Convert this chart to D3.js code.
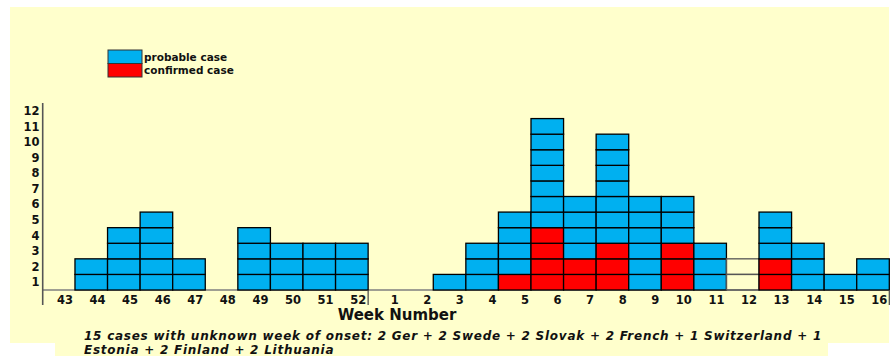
<!DOCTYPE html>
<html>
<head>
<meta charset="utf-8">
<script src="https://cdn.jsdelivr.net/npm/d3@7"></script>
<style>
  body { margin: 0; background: #fff; }
  svg { display: block; }
  .tick-label { font-family: "DejaVu Sans", sans-serif; font-weight: bold; font-size: 11.5px; fill: #111; }
  .legend-label { font-family: "DejaVu Sans", sans-serif; font-weight: bold; font-size: 10.5px; fill: #111; }
  .axis-title { font-family: "DejaVu Sans", sans-serif; font-weight: bold; font-size: 15px; fill: #111; }
  .caption { font-family: "DejaVu Sans", sans-serif; font-weight: bold; font-style: italic; font-size: 12px; letter-spacing: 0.75px; fill: #111; }
</style>
</head>
<body>
<svg id="chart"></svg>
<script>
// week of onset, 2 seasons (weeks 43-52, then 1-16)
const weeks = ['43','44','45','46','47','48','49','50','51','52',
               '1','2','3','4','5','6','7','8','9','10','11','12','13','14','15','16'];
const confirmed = [0,0,0,0,0,0,0,0,0,0, 0,0,0,0,1,4,2,3,0,3,0,0,2,0,0,0];
const probable  = [0,2,4,5,2,0,4,3,3,3, 0,0,1,3,4,7,4,7,6,3,3,0,3,3,1,2];
const unfilled  = [0,0,0,0,0,0,0,0,0,0, 0,0,0,0,0,0,0,0,0,0,0,2,0,0,0,0];
const yTicks = [1,2,3,4,5,6,7,8,9,10,11,12];
const legendItems = ['probable case', 'confirmed case'];
const captionLines = [
  '15 cases with unknown week of onset: 2 Ger + 2 Swede + 2 Slovak + 2 French + 1 Switzerland + 1',
  'Estonia + 2 Finland + 2 Lithuania'
];

const W = 891, H = 356;
const colors = { probable: '#00b0f0', confirmed: '#ff0000', unfilled: 'none' };

const svg = d3.select('#chart').attr('width', W).attr('height', H);

// backgrounds
svg.append('rect').attr('x', 10).attr('y', 7).attr('width', 879).attr('height', 336).attr('fill', '#ffffcc');
svg.append('rect').attr('x', 55).attr('y', 322).attr('width', 773).attr('height', 40).attr('fill', '#ffffcc');

const x = d3.scaleBand().domain(weeks).range([42.4, 889.3]).padding(0);
const y = d3.scaleLinear().domain([0, 12]).range([290, 103]);

// one cell per case, confirmed stacked at the bottom
const cells = [];
weeks.forEach((w, i) => {
  let level = 0;
  [['confirmed', confirmed[i]], ['probable', probable[i]], ['unfilled', unfilled[i]]].forEach(([kind, n]) => {
    for (let k = 0; k < n; k++) {
      cells.push({ week: w, level: level, kind: kind });
      level++;
    }
  });
});

// baseline
svg.append('line')
  .attr('x1', x.range()[0]).attr('x2', x.range()[1])
  .attr('y1', y(0)).attr('y2', y(0))
  .attr('stroke', '#7f7f7f').attr('stroke-width', 1.5);

svg.append('g').selectAll('rect')
  .data(cells)
  .join('rect')
  .attr('x', d => x(d.week))
  .attr('y', d => y(d.level + 1))
  .attr('width', x.bandwidth())
  .attr('height', y(0) - y(1))
  .attr('fill', d => colors[d.kind])
  .attr('stroke', d => d.kind === 'unfilled' ? '#555' : '#000')
  .attr('stroke-width', 1.3);

// y axis: labels sit in the middle of each unit row
const yAxis = svg.append('g')
  .attr('transform', 'translate(42.4,0)')
  .call(d3.axisLeft(y).tickValues(yTicks.map(v => v - 0.5)).tickFormat(v => v + 0.5).tickSize(0).tickPadding(3));
yAxis.select('.domain').remove();
yAxis.selectAll('text').attr('class', 'tick-label');

svg.append('line')
  .attr('x1', 42.7).attr('x2', 42.7)
  .attr('y1', y(12)).attr('y2', y(0) + 15)
  .attr('stroke', '#555').attr('stroke-width', 1.6);

// x axis: labels right aligned in each column
const xAxis = svg.append('g')
  .attr('transform', `translate(0,${y(0)})`)
  .call(d3.axisBottom(x).tickSize(0).tickPadding(6));
xAxis.select('.domain').remove();
xAxis.selectAll('text')
  .attr('class', 'tick-label')
  .attr('text-anchor', 'end')
  .attr('x', x.bandwidth() / 2 - 2);

// year break and right end markers
[x('1'), x.range()[1]].forEach(px => {
  svg.append('line')
    .attr('x1', px).attr('x2', px)
    .attr('y1', y(0)).attr('y2', y(0) + 15)
    .attr('stroke', '#444').attr('stroke-width', 1.2);
});

svg.append('text')
  .attr('class', 'axis-title')
  .attr('x', 397).attr('y', 320)
  .attr('text-anchor', 'middle')
  .text('Week Number');

// legend
const legend = svg.append('g').attr('transform', 'translate(108,50)');
legend.selectAll('rect')
  .data(legendItems)
  .join('rect')
  .attr('x', 0)
  .attr('y', (d, i) => i * 13.5)
  .attr('width', 34)
  .attr('height', 13.5)
  .attr('fill', (d, i) => i === 0 ? colors.probable : colors.confirmed)
  .attr('stroke', '#333')
  .attr('stroke-width', 1);
legend.selectAll('text')
  .data(legendItems)
  .join('text')
  .attr('class', 'legend-label')
  .attr('x', 36)
  .attr('y', (d, i) => i * 13.5 + 7)
  .attr('dy', '0.35em')
  .text(d => d);

svg.selectAll('.caption')
  .data(captionLines)
  .join('text')
  .attr('class', 'caption')
  .attr('x', 84)
  .attr('y', (d, i) => 340 + i * 13.5)
  .text(d => d);
</script>
</body>
</html>
